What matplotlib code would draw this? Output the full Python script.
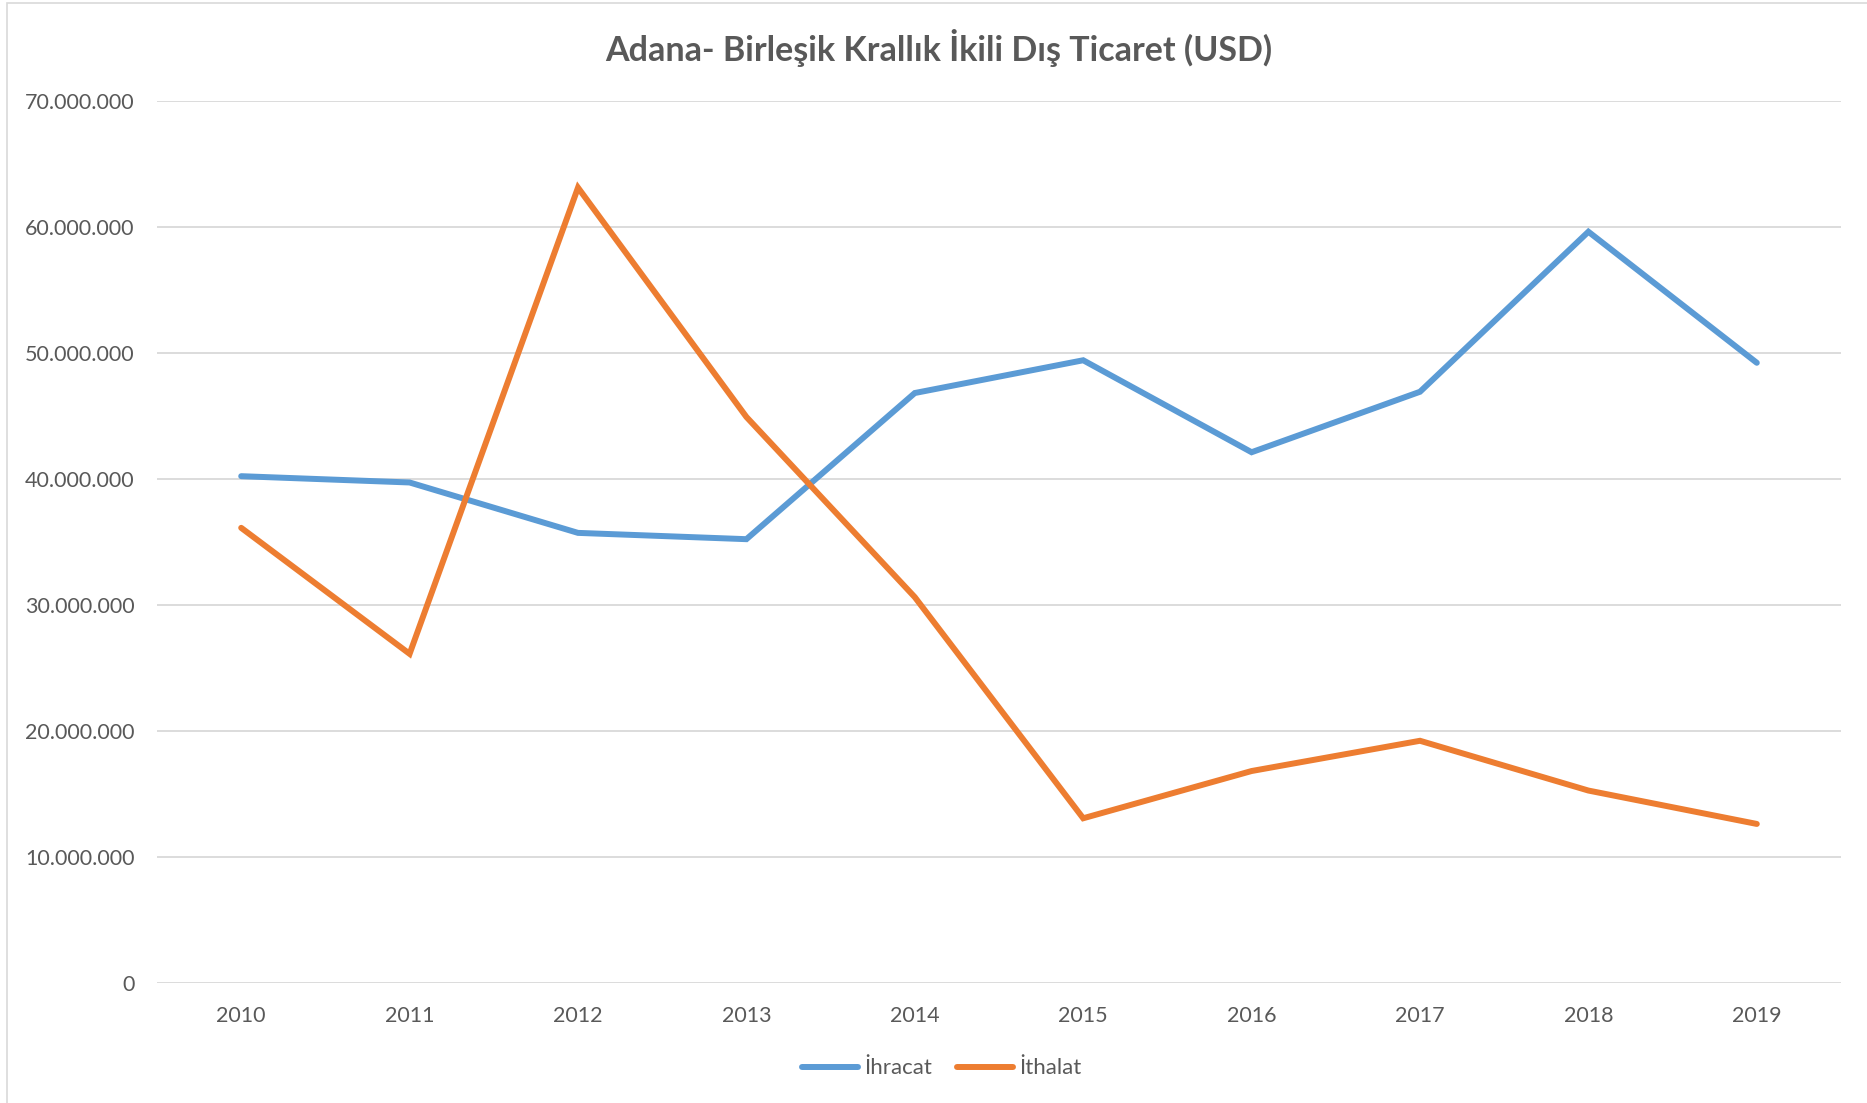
import matplotlib
matplotlib.use("Agg")
import matplotlib.pyplot as plt
from matplotlib.ticker import FuncFormatter, MultipleLocator
from matplotlib.patches import Rectangle

# values (USD)
years = ["2010", "2011", "2012", "2013", "2014", "2015", "2016", "2017", "2018", "2019"]
ihracat = [40.2e6, 39.7e6, 35.7e6, 35.2e6, 46.8e6, 49.4e6, 42.1e6, 46.9e6, 59.6e6, 49.2e6]
ithalat = [36.1e6, 26.1e6, 63.1e6, 44.9e6, 30.6e6, 13.05e6, 16.8e6, 19.2e6, 15.25e6, 12.6e6]

title = "Adana- Birleşik Krallık İkili Dış Ticaret (USD)"
grey = "#595959"

plt.rcParams['font.family'] = ['Lato', 'DejaVu Sans']

W, H = 1867, 1103
fig = plt.figure(figsize=(W / 100, H / 100), dpi=100)

# light frame round the chart area
fig.add_artist(Rectangle((7 / W, -0.05), 1.2, 1.05 - 3 / H, transform=fig.transFigure,
                         fill=False, edgecolor="#D9D9D9", linewidth=1.2))

ax = fig.add_axes([157 / W, 120.3 / H, 1684 / W, 882 / H])

x = range(len(years))
ax.plot(x, ihracat, color="#5B9BD5", linewidth=4.3, solid_capstyle="round",
        solid_joinstyle="miter", label="İhracat", zorder=3)
ax.plot(x, ithalat, color="#ED7D31", linewidth=4.3, solid_capstyle="round",
        solid_joinstyle="miter", label="İthalat", zorder=3)

ax.set_xlim(-0.5, len(years) - 0.5)
ax.set_ylim(0, 70e6)
ax.set_xticks(list(x))
ax.set_xticklabels(years)
ax.yaxis.set_major_locator(MultipleLocator(10e6))
ax.yaxis.set_major_formatter(FuncFormatter(lambda v, p: f"{int(round(v)):,}".replace(",", ".")))

ax.grid(axis="y", color="#D9D9D9", linewidth=1.3)
ax.set_axisbelow(True)
for s in ax.spines.values():
    s.set_visible(False)
ax.tick_params(axis="both", length=0, labelsize=15.5, labelcolor=grey)
ax.tick_params(axis="y", pad=16)
ax.tick_params(axis="x", pad=16.5)

fig.text(939 / W, 1 - 47.6 / H, title, ha="center", va="center",
         fontsize=24.5, fontweight="bold", color=grey)

fig.legend(loc="center", bbox_to_anchor=(942 / W, 1 - 1068.5 / H), ncol=2, frameon=False,
           fontsize=16, handlelength=2.5, handletextpad=0.3, columnspacing=1.1,
           labelcolor=grey)

fig.savefig("out.png", dpi=100)
